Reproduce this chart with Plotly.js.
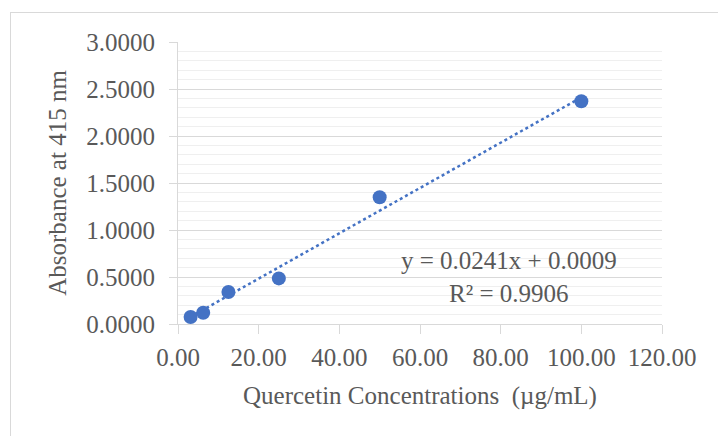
<!DOCTYPE html>
<html>
<head>
<meta charset="utf-8">
<script src="https://cdn.plot.ly/plotly-3.0.1.min.js"></script>
<style>
  html, body { margin: 0; padding: 0; background: #ffffff; }
  #frame { position: absolute; left: 10px; top: 12px; width: 760px; height: 480px; border: 1px solid #d9d9d9; box-sizing: border-box; }
  #chart { position: absolute; left: 0; top: 0; width: 718px; height: 436px; }
</style>
</head>
<body>
<div id="frame"></div>
<div id="chart"></div>
<script>
// Data
const concentrations = [3.125, 6.25, 12.5, 25, 50, 100];
const absorbance = [0.075, 0.12, 0.34, 0.485, 1.348, 2.37];
// Trendline coefficients shown on the chart
const slope = 0.0241;
const intercept = 0.0009;
const equationText = "y = 0.0241x + 0.0009";
const r2Text = "R² = 0.9906";

const trendX = [concentrations[0], concentrations[concentrations.length - 1]];
const trendY = trendX.map(x => slope * x + intercept);

const blue = '#4472C4';
const textColor = '#595959';
const fontFam = '"Liberation Serif", "Times New Roman", serif';

const traces = [
  {
    x: trendX, y: trendY, mode: 'lines', type: 'scatter',
    line: { color: blue, width: 2.5, dash: 'dot' },
    hoverinfo: 'skip', showlegend: false
  },
  {
    x: concentrations, y: absorbance, mode: 'markers', type: 'scatter',
    marker: { color: blue, size: 14 },
    showlegend: false
  }
];

const layout = {
  width: 718, height: 436,
  margin: { l: 178, r: 56, t: 42, b: 112 },
  paper_bgcolor: 'rgba(0,0,0,0)',
  plot_bgcolor: 'rgba(0,0,0,0)',
  font: { family: fontFam, size: 25, color: textColor },
  showlegend: false,
  xaxis: {
    range: [0, 120], dtick: 20, tick0: 0,
    tickformat: '.2f',
    showgrid: false, zeroline: false,
    showline: true, linecolor: '#d9d9d9', linewidth: 1,
    ticks: 'outside', ticklen: 9, tickcolor: '#d9d9d9', tickwidth: 1,
    ticklabelstandoff: 2,
    tickfont: { family: fontFam, size: 25, color: textColor },
    title: { text: 'Quercetin Concentrations  (µg/mL)', font: { family: fontFam, size: 25, color: textColor }, standoff: 16 }
  },
  yaxis: {
    range: [0, 3], dtick: 0.5, tick0: 0,
    tickformat: '.4f',
    showgrid: true, gridcolor: '#d9d9d9', gridwidth: 1,
    minor: { dtick: 0.1, showgrid: true, gridcolor: '#efefef', gridwidth: 1 },
    zeroline: false,
    showline: true, linecolor: '#d9d9d9', linewidth: 1,
    ticks: 'outside', ticklen: 8, tickcolor: '#d9d9d9', tickwidth: 1,
    ticklabelstandoff: 9,
    tickfont: { family: fontFam, size: 25, color: textColor },
    title: { text: 'Absorbance at 415 nm', font: { family: fontFam, size: 25, color: textColor }, standoff: 12 }
  },
  annotations: [
    {
      x: 82.06, y: 0.502, xref: 'x', yref: 'y',
      text: equationText + '<br>' + r2Text,
      showarrow: false, align: 'center',
      font: { family: fontFam, size: 25, color: textColor }
    }
  ]
};

Plotly.newPlot('chart', traces, layout, { displayModeBar: false, staticPlot: true });
</script>
</body>
</html>
